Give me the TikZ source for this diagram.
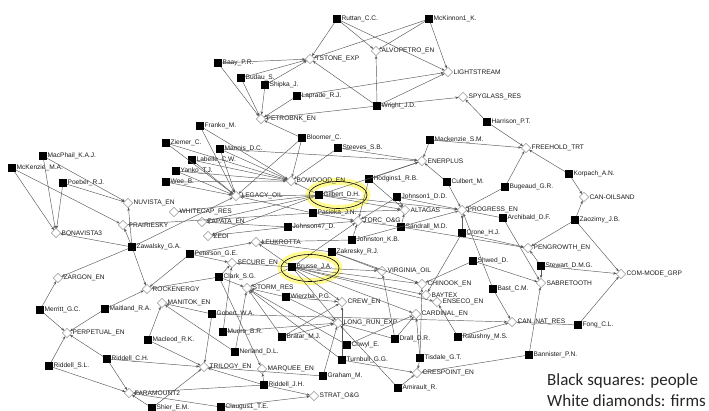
\documentclass[tikz,border=0pt]{standalone}
\usepackage{fontspec}
\setmainfont{Liberation Sans}
\newfontfamily\legendfont{Carlito}
\usetikzlibrary{shapes.geometric,arrows.meta}

\begin{document}
\begin{tikzpicture}[x=1pt,y=-1pt,
  every edge/.style={draw=black!65,line width=.45pt,-{Stealth[length=3.2pt,width=2.6pt]}},
  nlab/.style={font=\fontsize{6.6}{7}\selectfont,text=black!90,inner sep=.5pt},
  person/.style={rectangle,fill=black,minimum size=7.5pt,inner sep=0pt,label={[nlab]right:#1}},
  firm/.style={diamond,draw=black!55,fill=white,minimum size=9.5pt,inner sep=0pt,label={[nlab]right:#1}},
  hilite/.style={ellipse,draw=black,line width=.6pt,minimum width=58pt,minimum height=27pt,
    preaction={draw=yellow!80,line width=7pt,opacity=.55}},
  legend/.style={font=\legendfont\fontsize{17}{20}\selectfont,text=black!85,inner sep=0pt,anchor=west}]
\useasboundingbox (0,0) rectangle (709,411);

\node[hilite] (gilbertmark) at (338,195) {};
\node[hilite] (brussemark)  at (310,268) {};

% people
\node[person=Ruttan\_C.C.]     (ruttan)     at (337,19)  {};
\node[person=McKinnon1\_K.]    (mckinnon)   at (429,19)  {};
\node[person=Baay\_P.R.]       (baay)       at (218,63)  {};
\node[person=Budau\_S.]        (budau)      at (241,78)  {};
\node[person=Shipka\_J.]       (shipka)     at (265,85)  {};
\node[person=Laprade\_R.J.]    (laprade)    at (297,96)  {};
\node[person=Wright\_J.D.]     (wright)     at (377,106) {};
\node[person=Harrison\_P.T.]   (harrison)   at (487,122) {};
\node[person=Franko\_M.]       (franko)     at (200,126) {};
\node[person=Bloomer\_C.]      (bloomer)    at (302,138) {};
\node[person=Steeves\_S.B.]    (steeves)    at (338,148) {};
\node[person=Mackenzie\_S.M.]  (mackenzie)  at (430,140) {};
\node[person=Ziemer\_C.]       (ziemer)     at (166,143) {};
\node[person=Mannis\_D.C.]     (mannis)     at (220,149) {};
\node[person=Labelle\_C.W.]    (labelle)    at (192,160) {};
\node[person=Yanko\_T.J.]      (yanko)      at (176,171) {};
\node[person=Wee\_B.]          (wee)        at (166,182) {};
\node[person=MacPhail\_K.A.J.] (macphail)   at (43,156)  {};
\node[person=McKenzie\_M.A.]   (mckenzie)   at (12,168)  {};
\node[person=Poeber\_R.J.]     (poeber)     at (63,183)  {};
\node[person=Hodgins1\_R.B.]   (hodgins)    at (369,179) {};
\node[person=Culbert\_M.]      (culbert)    at (447,182) {};
\node[person=Gilbert\_D.H.]    (gilbert)    at (319,195) {};
\node[person=Johnson1\_D.D.]   (johnsonone) at (397,197) {};
\node[person=Pasieka\_J.N.]    (pasieka)    at (313,213) {};
\node[person=Bugeaud\_G.R.]    (bugeaud)    at (505,187) {};
\node[person=Korpach\_A.N.]    (korpach)    at (569,174) {};
\node[person=Johnson47\_D.]    (johnsonfs)  at (288,227) {};
\node[person=Sandrall\_M.D.]   (sandrall)   at (401,227) {};
\node[person=Archibald\_D.F.]  (archibald)  at (503,218) {};
\node[person=Crone\_H.J.]      (crone)      at (462,233) {};
\node[person=Zaozirny\_J.B.]   (zaozirny)   at (575,220) {};
\node[person=Johnston\_K.B.]   (johnston)   at (352,240) {};
\node[person=Zawalsky\_G.A.]   (zawalsky)   at (132,247) {};
\node[person=Peterson\_G.E.]   (peterson)   at (190,254) {};
\node[person=Zakresky\_R.J.]   (zakresky)   at (332,252) {};
\node[person=Shwed\_D.]        (shwed)      at (473,261) {};
\node[person=Stewart\_D.M.G.]  (stewart)    at (541,266) {};
\node[person=Brusse\_J.A.]     (brusse)     at (292,267) {};
\node[person=Clark\_S.G.]      (clark)      at (219,277) {};
\node[person=Wierzba\_P.G.]    (wierzba)    at (286,297) {};
\node[person=Gobert\_W.A.]     (gobert)     at (212,314) {};
\node[person=Maitland\_R.A.]   (maitland)   at (105,309) {};
\node[person=Merritt\_G.C.]    (merritt)    at (40,310)  {};
\node[person=Macleod\_R.K.]    (macleod)    at (148,340) {};
\node[person=Munro\_B.R.]      (munro)      at (223,332) {};
\node[person=Nerland\_D.L.]    (nerland)    at (235,352) {};
\node[person=Bratar\_M.J.]     (bratar)     at (282,337) {};
\node[person=Chwyl\_E.]        (chwyl)      at (347,345) {};
\node[person=Drall\_D.R.]      (drall)      at (395,339) {};
\node[person=Bast\_C.M.]       (bast)       at (493,289) {};
\node[person=Ratushny\_M.S.]   (ratushny)   at (458,337) {};
\node[person=Riddell\_C.H.]    (riddellch)  at (107,359) {};
\node[person=Riddell\_S.L.]    (riddellsl)  at (49,366)  {};
\node[person=Turnbull\_G.G.]   (turnbull)   at (342,360) {};
\node[person=Tisdale\_G.T.]    (tisdale)    at (420,358) {};
\node[person=Graham\_M.]       (graham)     at (323,376) {};
\node[person=Riddell\_J.H.]    (riddelljh)  at (264,385) {};
\node[person=Amirault\_R.]     (amirault)   at (398,388) {};
\node[person=Bannister\_P.N.]  (bannister)  at (529,355) {};
\node[person=Fong\_C.L.]       (fong)       at (578,325) {};
\node[person=Shier\_E.M.]      (shier)      at (152,408) {};
\node[person=Claugus1\_T.E.]   (claugus)    at (221,407) {};

% firms
\node[firm=TSTONE\_EXP]    (tstone)     at (310,59)  {};
\node[firm=ALVOPETRO\_EN]  (alvo)       at (376,51)  {};
\node[firm=LIGHTSTREAM]    (light)      at (448,72)  {};
\node[firm=SPYGLASS\_RES]  (spyglass)   at (463,97)  {};
\node[firm=PETROBNK\_EN]   (petrobnk)   at (261,119) {};
\node[firm=FREEHOLD\_TRT]  (freehold)   at (526,148) {};
\node[firm=ENERPLUS]       (enerplus)   at (422,161) {};
\node[firm=BOWDOOD\_EN]    (bowdood)    at (291,181) {};
\node[firm=LEGACY\_OIL]    (legacy)     at (236,196) {};
\node[firm=NUVISTA\_EN]    (nuvista)    at (128,203) {};
\node[firm=ALTAGAS]        (altagas)    at (405,210) {};
\node[firm=PROGRESS\_EN]   (progress)   at (462,210) {};
\node[firm=WHITECAP\_RES]  (whitecap)   at (174,212) {};
\node[firm=TORC\_O\&G]     (torc)       at (358,221) {};
\node[firm=PRAIRIESKY]     (prairie)    at (123,225) {};
\node[firm=ZAPATA\_EN]     (zapata)     at (202,222) {};
\node[firm=CAN-OILSAND]    (oilsand)    at (584,197) {};
\node[firm=BONAVISTA3]     (bonavista)  at (56,233)  {};
\node[firm=ZEDI]           (zedi)       at (208,236) {};
\node[firm=LEUKROTTA]      (leukrotta)  at (256,242) {};
\node[firm=SECURE\_EN]     (secure)     at (232,263) {};
\node[firm=PENGROWTH\_EN]  (pengrowth)  at (528,248) {};
\node[firm=VIRGINIA\_OIL]  (virginia)   at (382,271) {};
\node[firm=COM-MODE\_GRP]  (commode)    at (621,274) {};
\node[firm=STORM\_RES]     (storm)      at (247,288) {};
\node[firm=ROCKENERGY]     (rockenergy) at (147,289) {};
\node[firm=SABRETOOTH]     (sabretooth) at (541,283) {};
\node[firm=CHINOOK\_EN]    (chinook)    at (422,284) {};
\node[firm=MANITOK\_EN]    (manitok)    at (162,303) {};
\node[firm=ZARGON\_EN]     (zargon)     at (58,278)  {};
\node[firm=CREW\_EN]       (crew)       at (342,302) {};
\node[firm=BAYTEX]         (baytex)     at (426,295) {};
\node[firm=ENSECO\_EN]     (enseco)     at (437,302) {};
\node[firm=CARDINAL\_EN]   (cardinal)   at (416,314) {};
\node[firm=LONG\_RUN\_EXP] (longrun)    at (338,323) {};
\node[firm=CAN\_NAT\_RES]  (cannat)     at (512,322) {};
\node[firm=PERPETUAL\_EN]  (perpetual)  at (67,333)  {};
\node[firm=TRILOGY\_EN]    (trilogy)    at (204,367) {};
\node[firm=MARQUEE\_EN]    (marquee)    at (262,369) {};
\node[firm=CRESPOINT\_EN]  (crespoint)  at (417,373) {};
\node[firm=PARAMOUNT2]     (paramount)  at (129,393) {};
\node[firm=STRAT\_O\&G]    (strat)      at (314,396) {};

% board seats
\path (ruttan)     edge (tstone) edge (alvo) edge (light);
\path (mckinnon)   edge (tstone) edge (alvo) edge (light);
\path (baay)       edge (tstone) edge (petrobnk);
\path (budau)      edge (tstone) edge (petrobnk);
\path (shipka)     edge (tstone) edge (petrobnk);
\path (laprade)    edge (petrobnk) edge (light);
\path (wright)     edge (tstone) edge (alvo) edge (light) edge (spyglass) edge (petrobnk);
\path (harrison)   edge (spyglass) edge (freehold);
\path (franko)     edge (legacy) edge (bowdood);
\path (bloomer)    edge (petrobnk) edge (bowdood) edge (legacy);
\path (steeves)    edge (bowdood) edge (enerplus);
\path (mackenzie)  edge (enerplus) edge (freehold);
\path (ziemer)     edge (legacy) edge (bowdood);
\path (mannis)     edge (legacy) edge (bowdood) edge (enerplus);
\path (labelle)    edge (legacy) edge (bowdood);
\path (yanko)      edge (legacy) edge (bowdood);
\path (wee)        edge (legacy) edge (bowdood);
\path (macphail)   edge (bonavista) edge (nuvista);
\path (mckenzie)   edge (bonavista) edge (prairie);
\path (poeber)     edge (bonavista) edge (nuvista);
\path (hodgins)    edge (enerplus) edge (altagas) edge (torc);
\path (culbert)    edge (progress) edge (enerplus);
\path (gilbert)    edge (bowdood) edge (legacy) edge (whitecap) edge (zapata) edge (zedi)
                   edge (enerplus) edge (altagas) edge (progress);
\path (johnsonone) edge (altagas) edge (progress) edge (torc);
\path (pasieka)    edge (legacy) edge (torc) edge (altagas) edge (prairie);
\path (bugeaud)    edge (freehold) edge (progress);
\path (korpach)    edge (oilsand) edge (freehold);
\path (johnsonfs)  edge (torc) edge (zapata) edge (zedi);
\path (sandrall)   edge (torc) edge (altagas) edge (pengrowth);
\path (archibald)  edge (progress) edge (sabretooth);
\path (crone)      edge (progress) edge (pengrowth) edge (baytex);
\path (zaozirny)   edge (oilsand) edge (pengrowth) edge (commode);
\path (johnston)   edge (leukrotta) edge (torc) edge (progress);
\path (zawalsky)   edge (bonavista) edge (prairie) edge (nuvista) edge (zargon)
                   edge (rockenergy) edge (legacy);
\path (peterson)   edge (leukrotta) edge (secure) edge (rockenergy);
\path (zakresky)   edge (leukrotta) edge (virginia) edge (chinook);
\path (shwed)      edge (sabretooth) edge (chinook);
\path (stewart)    edge (sabretooth) edge (pengrowth) edge (commode);
\path (brusse)     edge (secure) edge (storm) edge (leukrotta) edge (torc) edge (virginia)
                   edge (chinook) edge (baytex) edge (enseco) edge (cardinal) edge (crew)
                   edge (longrun);
\path (clark)      edge (secure) edge (storm) edge (rockenergy) edge (marquee);
\path (wierzba)    edge (storm) edge (crew) edge (longrun);
\path (gobert)     edge (manitok) edge (trilogy) edge (cannat);
\path (maitland)   edge (rockenergy) edge (perpetual);
\path (merritt)    edge (zargon) edge (perpetual);
\path (macleod)    edge (manitok) edge (trilogy);
\path (munro)      edge (secure) edge (longrun);
\path (nerland)    edge (manitok) edge (storm);
\path (bratar)     edge (storm) edge (longrun) edge (crew);
\path (chwyl)      edge (storm) edge (cardinal);
\path (drall)      edge (virginia) edge (longrun) edge (cardinal);
\path (bast)       edge (progress) edge (cannat);
\path (ratushny)   edge (enseco) edge (cannat);
\path (riddellch)  edge (perpetual) edge (paramount) edge (trilogy);
\path (riddellsl)  edge (perpetual) edge (paramount);
\path (turnbull)   edge (storm) edge (crespoint) edge (crew);
\path (tisdale)    edge (cardinal) edge (crespoint) edge (chinook);
\path (graham)     edge (longrun) edge (trilogy);
\path (riddelljh)  edge (marquee) edge (strat) edge (trilogy) edge (paramount);
\path (amirault)   edge (crespoint) edge (longrun);
\path (bannister)  edge (sabretooth) edge (crespoint);
\path (fong)       edge (commode) edge (cannat);
\path (shier)      edge (paramount) edge (trilogy);
\path (claugus)    edge (paramount) edge (strat);

\node[legend] (legpeople) at (547,381) {Black squares: people};
\node[legend] (legfirms)  at (547,401) {White diamonds: firms};
\end{tikzpicture}
\end{document}
